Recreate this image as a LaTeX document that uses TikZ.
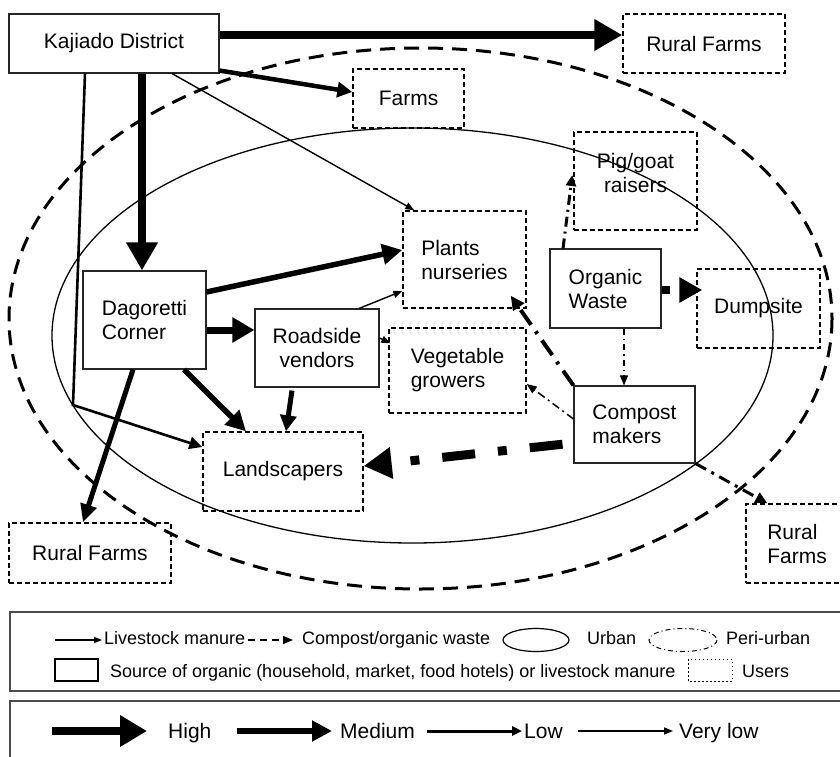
\documentclass[tikz,border=0pt]{standalone}
\usepackage{fontspec}
\setmainfont{Liberation Sans}
\usetikzlibrary{arrows.meta,calc}
\newcommand\mainfs{\fontsize{21}{24}\selectfont}
\newcommand\legfs{\fontsize{18}{21}\selectfont}
\begin{document}
\begin{tikzpicture}[x=1pt,y=-1pt,
  srcbox/.style={draw=black!85, line width=1.1pt, inner sep=0pt, font=\mainfs},
  userbox/.style={draw, dash pattern=on 5pt off 3pt, line width=1.4pt, inner sep=0pt, font=\mainfs},
  flowhigh/.style={line width=7.5pt, -{Triangle[length=28pt,width=30pt]}},
  flowmed/.style={line width=5.5pt, -{Triangle[length=20pt,width=20pt]}},
  flowlow/.style={line width=3pt, -{Triangle[length=12pt,width=11pt]}},
  flowvlow/.style={line width=1.4pt, -{Triangle[length=9pt,width=7pt]}},
  legtext/.style={anchor=base west, inner sep=0pt, font=\legfs},
  legtextb/.style={anchor=base west, inner sep=0pt, font=\mainfs}]
\useasboundingbox (0,0) rectangle (840,757);
\clip (0,0) rectangle (840,757);

% zones
\draw[line width=3pt, dash pattern=on 15pt off 9pt] (420.5,318.5) ellipse [x radius=411.5, y radius=270.5];
\draw[line width=1.3pt] (412.5,335.5) ellipse [x radius=360.5, y radius=207.5];

% sources
\node[srcbox, minimum width=210pt, minimum height=59pt] (kaj) at (114,43.5) {Kajiado District};
\node[srcbox, minimum width=123pt, minimum height=98pt, align=left] (dag) at (144.5,320) {Dagoretti\\Corner};
\node[srcbox, minimum width=124pt, minimum height=78pt, align=center] (road) at (317,348) {Roadside\\vendors};
\node[srcbox, minimum width=111pt, minimum height=79pt, align=left] (org) at (605.5,288.5) {Organic\\Waste};
\node[srcbox, minimum width=121pt, minimum height=77pt, align=left] (comp) at (634.5,424.5) {Compost\\makers};

% users
\node[userbox, minimum width=162pt, minimum height=59pt] (rf1) at (704,43.5) {Rural Farms};
\node[userbox, minimum width=111pt, minimum height=59pt] (farms) at (408.5,98.5) {Farms};
\node[userbox, minimum width=123pt, minimum height=98pt, align=center] (pig) at (635.5,181) {Pig/goat\\raisers\\[-8pt]};
\node[userbox, minimum width=123pt, minimum height=97pt, align=left] (plants) at (464.5,259.5) {Plants\\nurseries};
\node[userbox, minimum width=123pt, minimum height=79pt] (dump) at (758.5,308.5) {Dumpsite};
\node[userbox, minimum width=137pt, minimum height=85pt, align=left] (veg) at (457.5,370.5) {Vegetable\\growers};
\node[userbox, minimum width=160pt, minimum height=79pt] (land) at (283,471.5) {Landscapers};
\node[userbox, minimum width=162pt, minimum height=60pt] (rf2) at (90,553) {Rural Farms};
\node[userbox, minimum width=102pt, minimum height=79pt, align=left] (rf3) at (797,543.5) {Rural\\Farms};

\coordinate (kbend) at (73,405);

% flows from Kajiado
\draw[flowhigh] ([yshift=8.5pt]kaj.east) -- ([yshift=8.5pt]rf1.west);
\draw[flowhigh] ([xshift=28pt]kaj.south) -- ([xshift=28pt]kaj.south |- dag.north);
\draw[line width=4.5pt, -{Triangle[length=15pt,width=15pt]}] ([yshift=3pt]kaj.south east) -- ([yshift=6.5pt]farms.west);
\draw[flowvlow] ([xshift=58pt]kaj.south) -- ([xshift=12pt]plants.north west);
\draw[line width=2.6pt, -{Triangle[length=13pt,width=12pt]}] ([xshift=-29pt]kaj.south) -- (kbend) -- ([yshift=24.5pt]land.west);

% flows from Dagoretti
\draw[flowmed] ([yshift=28pt]dag.east) -- ([yshift=9.5pt]plants.west);
\draw[line width=7pt, -{Triangle[length=22pt,width=24pt]}] ([yshift=-10pt]dag.east) -- ([yshift=18pt]road.west);
\draw[flowmed] ([xshift=39.5pt]dag.south) -- ([xshift=-37pt]land.north);
\draw[line width=5pt, -{Triangle[length=18pt,width=16pt]}] ([xshift=-11.5pt]dag.south) -- ([xshift=-7pt]rf2.north);

% flows from roadside vendors
\draw[line width=5pt, -{Triangle[length=16pt,width=16pt]}] ([xshift=-25pt,yshift=-3pt]road.south) -- ([xshift=3pt]land.north);
\draw[flowvlow] ([xshift=42pt]road.north) -- ([yshift=-31.5pt]plants.west);
\draw[flowvlow] ([yshift=10pt]road.east) -- ([xshift=2pt,yshift=-16pt]veg.north west);

% flows from organic waste
\draw[line width=3pt, dash pattern=on 10pt off 5pt on 2pt off 5pt, -{Triangle[length=11pt,width=10pt]}] ([xshift=-42.5pt]org.north) -- ([xshift=-1pt,yshift=6pt]pig.west);
\draw[line width=8pt, dash pattern=on 8pt off 13pt, -{Triangle[length=23pt,width=24pt]}] ([yshift=-1.5pt]org.east) -- ([xshift=6pt,yshift=18.5pt]dump.west);
\draw[line width=1.5pt, dash pattern=on 6pt off 4pt on 1.5pt off 4pt, -{Triangle[length=10pt,width=8pt]}] ([xshift=18.5pt]org.south) -- ([xshift=-10.5pt]comp.north);

% flows from compost makers
\draw[line width=4pt, dash pattern=on 18pt off 8pt on 3pt off 8pt, -{Triangle[length=14pt,width=13pt]}] (comp.north west) -- ([xshift=-16pt,yshift=13pt]plants.south east);
\draw[line width=1.5pt, dash pattern=on 8pt off 4pt on 2pt off 4pt, -{Triangle[length=10pt,width=8pt]}] ([yshift=5.5pt]comp.west) -- ([yshift=-13.5pt]veg.east);
\draw[line width=9pt, dash pattern=on 33pt off 23pt on 9pt off 23pt, dash phase=77pt, -{Triangle[length=28pt,width=30pt]}] ([yshift=-18.5pt]comp.west) -- ([yshift=5.5pt]land.east);
\draw[line width=3pt, dash pattern=on 12pt off 6pt on 3pt off 6pt, -{Triangle[length=12pt,width=11pt]}] (comp.south east) -- ([xshift=22pt]rf3.north west);

% legend 1
\draw[line width=1.5pt, draw=black!70] (10,612) rectangle (850,691);
\draw[line width=1.3pt, -{Triangle[length=8pt,width=6pt]}] (55,640) -- (102,640);
\node[legtext] (lg1) at (104,644) {Livestock manure};
\draw[line width=1.5pt, dash pattern=on 7pt off 5pt, -{Triangle[length=10pt,width=8pt]}] (248,640) -- (293,640);
\node[legtext] (lg2) at (302,644) {Compost/organic waste};
\draw[line width=1.2pt] (536,640) ellipse [x radius=33, y radius=11.5];
\node[legtext] (lg3) at (587,644) {Urban};
\draw[line width=1pt, dash pattern=on 5pt off 3pt on 1pt off 3pt] (683,640) ellipse [x radius=34, y radius=11.5];
\node[legtext] (lg4) at (726,644) {Peri-urban};
\draw[line width=1.2pt] (55,659) rectangle (98,681);
\node[legtext] (lg5) at (110,677) {Source of organic (household, market, food hotels) or livestock manure};
\draw[line width=1pt, dash pattern=on 1.5pt off 2.5pt] (688,659) rectangle (732,681);
\node[legtext] (lg6) at (742,677) {Users};

% legend 2
\draw[line width=1.5pt, draw=black!70] (10,701) rectangle (850,770);
\draw[line width=8.5pt, -{Triangle[length=27pt,width=30pt]}] (52,731) -- (147,731);
\node[legtextb] (lh) at (168,738) {High};
\draw[line width=6pt, -{Triangle[length=20pt,width=20pt]}] (237,731) -- (332,731);
\node[legtextb] (lm) at (340,738) {Medium};
\draw[line width=3pt, -{Triangle[length=10pt,width=9pt]}] (427,731) -- (522,731);
\node[legtextb] (ll) at (524,738) {Low};
\draw[line width=1.5pt, -{Triangle[length=9pt,width=7pt]}] (578,731) -- (673,731);
\node[legtextb] (lv) at (679,738) {Very low};
\end{tikzpicture}
\end{document}
